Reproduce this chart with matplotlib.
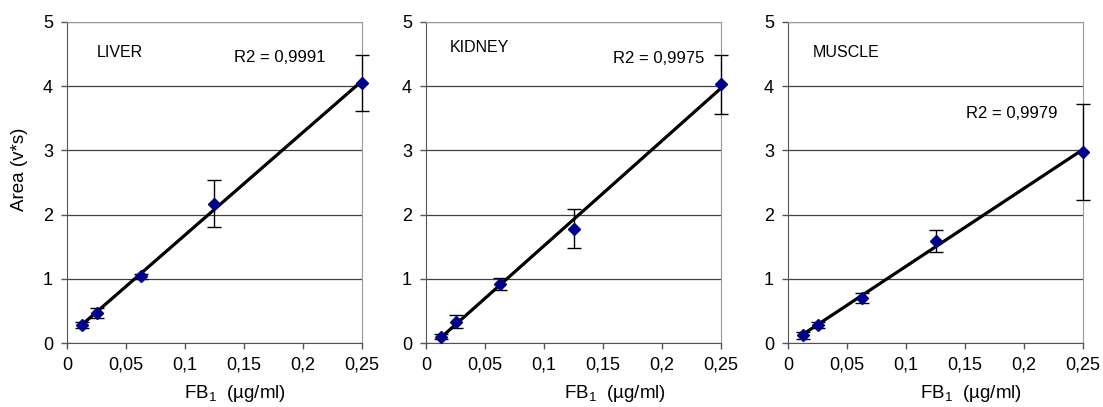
import numpy as np
import matplotlib.pyplot as plt

plt.rcParams['font.family'] = ['Liberation Sans', 'DejaVu Sans']

# concentrations (µg/ml)
conc = [0.0125, 0.025, 0.0625, 0.125, 0.25]

tissues = ['LIVER', 'KIDNEY', 'MUSCLE']
r2_labels = ['R2 = 0,9991', 'R2 = 0,9975', 'R2 = 0,9979']

liver_area = [0.28, 0.47, 1.04, 2.17, 4.05]
liver_err = [0.05, 0.08, 0.04, 0.37, 0.43]
kidney_area = [0.10, 0.33, 0.92, 1.78, 4.03]
kidney_err = [0.04, 0.10, 0.10, 0.30, 0.46]
muscle_area = [0.12, 0.28, 0.70, 1.59, 2.98]
muscle_err = [0.05, 0.05, 0.08, 0.17, 0.75]

areas = [liver_area, kidney_area, muscle_area]
errs = [liver_err, kidney_err, muscle_err]

xticks = [0, 0.05, 0.1, 0.15, 0.2, 0.25]
xticklabels = ['0', '0,05', '0,1', '0,15', '0,2', '0,25']

fig = plt.figure(figsize=(11.03, 4.07), dpi=100)
lefts = [67, 426, 788]
W, H = 1103, 407
x = np.array(conc)

# label / R2 text positions (data coords)
label_pos = [(0.025, 4.52), (0.02, 4.6), (0.021, 4.52)]
r2_pos = [(0.219, 4.44), (0.236, 4.43), (0.228, 3.57)]
xlabel_x = [0.57, 0.64, 0.62]

for i in range(3):
    ax = fig.add_axes([lefts[i] / W, (H - 343) / H, 295 / W, 321 / H])
    y = np.array(areas[i])
    # linear trend line
    k, b = np.polyfit(x, y, 1)
    ax.plot([x[0], x[-1]], [k * x[0] + b, k * x[-1] + b], color='black', lw=2.3, zorder=3)
    ax.errorbar(x, y, yerr=errs[i], fmt='D', color='#00008b', ms=6,
                ecolor='black', elinewidth=1, capsize=5, capthick=1, zorder=4, clip_on=False)

    ax.set_xlim(0, 0.25)
    ax.set_ylim(0, 5)
    ax.set_xticks(xticks)
    ax.set_xticklabels(xticklabels)
    ax.set_yticks(range(6))
    ax.yaxis.grid(True, color='#404040', lw=0.9)
    ax.set_axisbelow(True)
    ax.tick_params(labelsize=13, direction='out', length=4, width=1, color='#555555', pad=6)
    for s in ['top', 'right']:
        ax.spines[s].set_color('#9a9a9a')
    for s in ['left', 'bottom']:
        ax.spines[s].set_color('#555555')

    ax.text(*label_pos[i], tissues[i], fontsize=11.5, va='center')
    ax.text(*r2_pos[i], r2_labels[i], fontsize=12, ha='right', va='center')

    ax.set_xlabel(r'FB$_\mathregular{1}$  (µg/ml)', fontsize=13.5)
    ax.xaxis.set_label_coords(xlabel_x[i], -0.125)
    if i == 0:
        ax.set_ylabel('Area (v*s)', fontsize=13.5)
        ax.yaxis.set_label_coords(-0.132, 0.54)

fig.savefig('out.png', dpi=100)
